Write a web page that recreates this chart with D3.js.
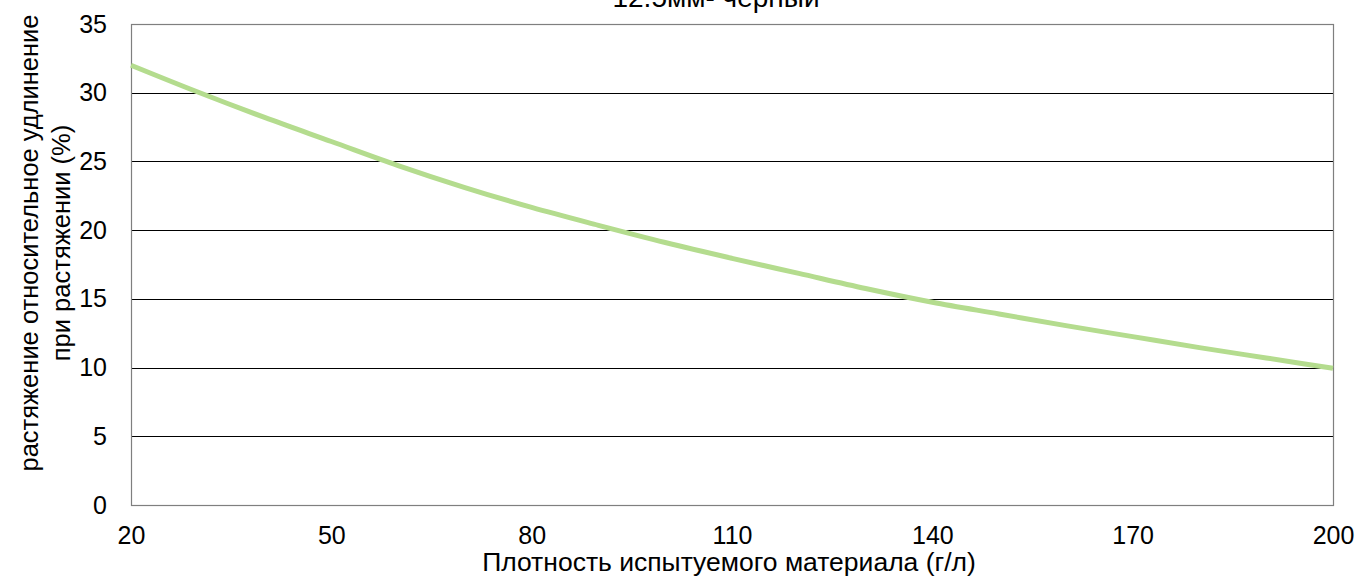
<!DOCTYPE html>
<html><head><meta charset="utf-8">
<script src="https://cdn.jsdelivr.net/npm/d3@7"></script>
<style>body{margin:0;background:#fff;} text{font-family:"Liberation Sans",Arial,sans-serif;fill:#000;}</style>
</head><body><svg id="c" width="1357" height="577"></svg>
<script>
const density = [20,30,40,50,60,70,80,90,100,110,120,130,140,150,160,170,180,190,200];
const elongation = [32.0,30.05,28.2,26.45,24.7,23.1,21.65,20.35,19.1,17.95,16.85,15.75,14.75,13.9,13.05,12.25,11.45,10.7,9.95];
const xTicks = [20,50,80,110,140,170,200];
const yTicks = [0,5,10,15,20,25,30,35];
const title = "12.5мм- черный";
const xTitle = "Плотность испытуемого материала (г/л)";
const yTitle = ["растяжение относительное удлинение","при растяжении (%)"];

const svg = d3.select("#c");
const L=131,R=1333,T=24,B=505;
const x = d3.scaleLinear().domain([20,200]).range([L,R]);
const y = d3.scaleLinear().domain([0,35]).range([B,T]);

svg.append("g").selectAll("line").data(yTicks.filter(d=>d>0)).join("line")
  .attr("x1",L).attr("x2",R).attr("y1",d=>Math.round(y(d))+0.5).attr("y2",d=>Math.round(y(d))+0.5)
  .attr("stroke","#000").attr("stroke-width",1);
svg.append("rect").attr("x",L+0.5).attr("y",Math.round(T)+0.5).attr("width",R-L).attr("height",B-Math.round(T))
  .attr("fill","none").attr("stroke","#7f7f7f").attr("stroke-width",1.2);

const ya = svg.append("g").attr("transform",`translate(${L},0)`).call(d3.axisLeft(y).tickValues(yTicks).tickSize(0).tickPadding(24));
ya.select(".domain").remove();
ya.selectAll("text").attr("font-size",25).attr("font-family","Liberation Sans, Arial, sans-serif").attr("fill","#000");
const xa = svg.append("g").attr("transform",`translate(0,${B})`).call(d3.axisBottom(x).tickValues(xTicks).tickSize(0).tickPadding(0));
xa.select(".domain").remove();
xa.selectAll("text").attr("font-size",25).attr("font-family","Liberation Sans, Arial, sans-serif").attr("fill","#000")
  .attr("dy",null).attr("y",39);

svg.append("path").datum(density.map((d,i)=>[d,elongation[i]]))
  .attr("d",d3.line().x(d=>x(d[0])).y(d=>y(d[1])).curve(d3.curveMonotoneX))
  .attr("fill","none").attr("stroke","#b4dc8e").attr("stroke-width",5);

svg.append("text").attr("x",716).attr("y",7).attr("text-anchor","middle").attr("font-size",28).text(title);
svg.append("text").attr("x",729).attr("y",571).attr("text-anchor","middle").attr("font-size",26.5).text(xTitle);
svg.append("g").attr("transform","translate(38,243) rotate(-90)").selectAll("text").data(yTitle).join("text")
  .attr("x",0).attr("y",(d,i)=>i*32).attr("text-anchor","middle").attr("font-size",25.5).text(d=>d);
</script></body></html>
